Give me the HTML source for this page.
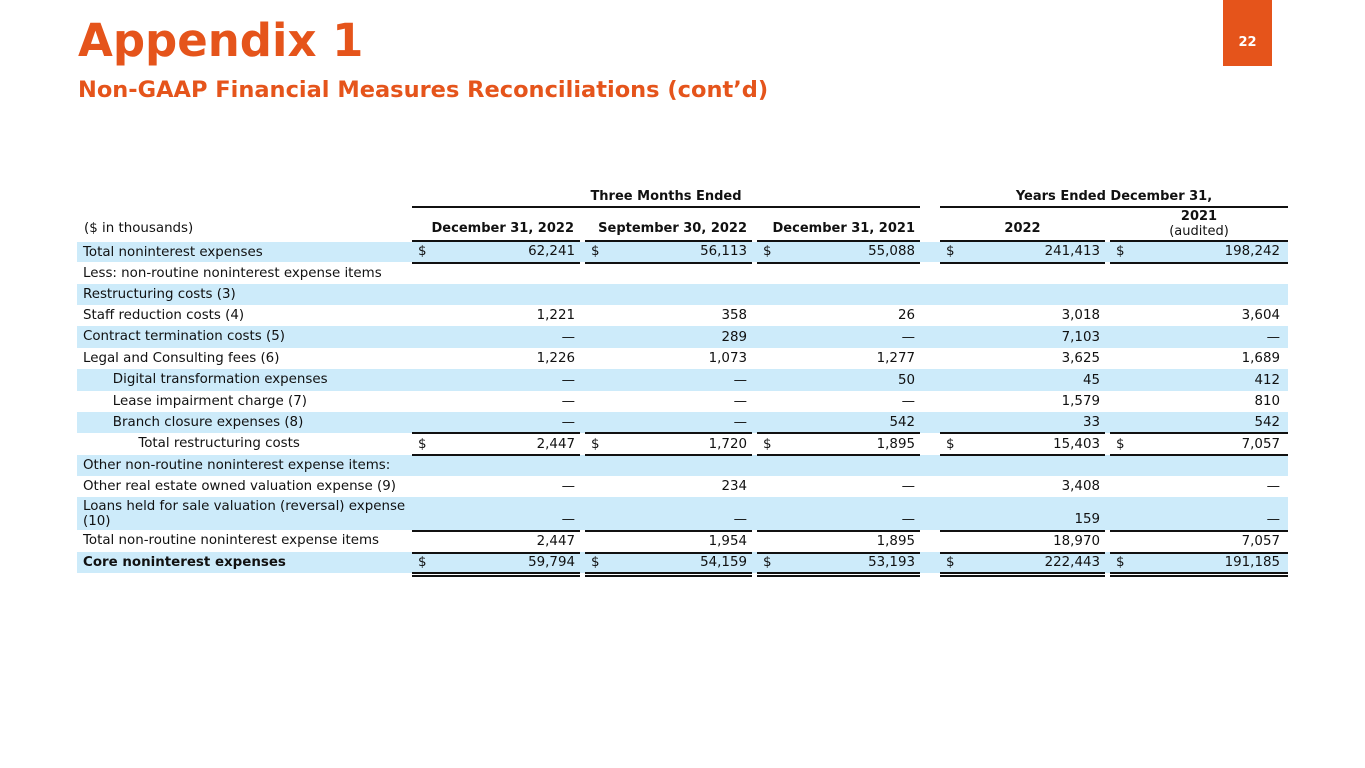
<!DOCTYPE html>
<html><head><meta charset="utf-8"><style>
body{margin:0;width:1365px;height:768px;background:#fff;position:relative;overflow:hidden;font-family:"DejaVu Sans","Liberation Sans",sans-serif;color:#111;}
.a{position:absolute;white-space:nowrap;}
.t{left:78px;top:14px;font-size:45px;font-weight:bold;color:#E5541B;font-family:"DejaVu Sans",sans-serif;letter-spacing:0px}
.s{left:78px;top:77px;font-size:22.5px;font-weight:bold;color:#E5541B}
.pg{left:1223px;top:0;width:49px;height:66px;background:#E5541B;color:#fff;font-weight:bold;font-size:13px;text-align:center;line-height:86px}
.r{position:absolute;left:77px;width:1211px;font-size:13.4px;}
.b{background:#CDEBFA}
.r span{position:absolute;top:0;}
.l{left:6px}
.h{position:absolute;height:2px;background:#111}
.hd{position:absolute;font-size:13px;font-weight:bold;text-align:center}
</style></head><body>
<div class="a t">Appendix 1</div>
<div class="a s">Non-GAAP Financial Measures Reconciliations (cont’d)</div>
<div class="a pg">22</div>

<div class="hd" style="left:412px;width:508px;top:189px">Three Months Ended</div>
<div class="hd" style="left:940px;width:348px;top:189px">Years Ended December 31,</div>
<div class="h" style="left:412px;width:508px;top:206px"></div>
<div class="h" style="left:940px;width:348px;top:206px"></div>
<div class="a" style="left:84px;top:221px;font-size:13.4px">($ in thousands)</div>
<div class="hd" style="left:412px;width:162px;top:221px;text-align:right">December 31, 2022</div>
<div class="hd" style="left:585px;width:162px;top:221px;text-align:right">September 30, 2022</div>
<div class="hd" style="left:757px;width:158px;top:221px;text-align:right">December 31, 2021</div>
<div class="hd" style="left:940px;width:165px;top:221px">2022</div>
<div class="hd" style="left:1110px;width:178px;top:209px;line-height:15px">2021<br><span style="font-weight:normal">(audited)</span></div>
<div class="h" style="left:412px;width:168px;top:240px"></div>
<div class="h" style="left:585px;width:167px;top:240px"></div>
<div class="h" style="left:757px;width:163px;top:240px"></div>
<div class="h" style="left:940px;width:165px;top:240px"></div>
<div class="h" style="left:1110px;width:178px;top:240px"></div>

<div id="rows"></div>
<script>
const rows=[
[242,20,1,"Total noninterest expenses",["62,241","56,113","55,088","241,413","198,242"],1,0],
[263,21,0,"Less: non-routine noninterest expense items",null,0,0],
[284,21,1,"Restructuring costs (3)",null,0,0],
[305,21,0,"Staff reduction costs (4)",["1,221","358","26","3,018","3,604"],0,0],
[326,22,1,"Contract termination costs (5)",["—","289","—","7,103","—"],0,0],
[348,21,0,"Legal and Consulting fees (6)",["1,226","1,073","1,277","3,625","1,689"],0,0],
[369,22,1,"&nbsp;&nbsp;&nbsp;&nbsp;&nbsp;&nbsp;&nbsp;Digital transformation expenses",["—","—","50","45","412"],0,0],
[391,21,0,"&nbsp;&nbsp;&nbsp;&nbsp;&nbsp;&nbsp;&nbsp;Lease impairment charge (7)",["—","—","—","1,579","810"],0,0],
[412,21,1,"&nbsp;&nbsp;&nbsp;&nbsp;&nbsp;&nbsp;&nbsp;Branch closure expenses (8)",["—","—","542","33","542"],0,0],
[433,22,0,"&nbsp;&nbsp;&nbsp;&nbsp;&nbsp;&nbsp;&nbsp;&nbsp;&nbsp;&nbsp;&nbsp;&nbsp;&nbsp;Total restructuring costs",["2,447","1,720","1,895","15,403","7,057"],1,0],
[455,21,1,"Other non-routine noninterest expense items:",null,0,0],
[476,21,0,"Other real estate owned valuation expense (9)",["—","234","—","3,408","—"],0,0],
[497,33,1,"Loans held for sale valuation (reversal) expense<br>(10)",["—","—","—","159","—"],0,0],
[530,22,0,"Total non-routine noninterest expense items",["2,447","1,954","1,895","18,970","7,057"],0,0],
[552,21,1,"<b>Core noninterest expenses</b>",["59,794","54,159","53,193","222,443","191,185"],1,0],
];
const cols=[[412,575],[585,747],[757,915],[940,1100],[1110,1280]];
const segs=[[412,168],[585,167],[757,163],[940,165],[1110,178]];
let h="";
for(const [top,ht,blue,lab,vals,dol] of rows){
 const two=lab.includes("<br>");
 h+=`<div class="r${blue?' b':''}" style="top:${top}px;height:${ht}px"><span class="l" style="top:${two?2:3}px;line-height:15px">${lab}</span></div>`;
 if(vals){vals.forEach((v,i)=>{const [l,r]=cols[i];const ty=top+ht-18;
  if(dol)h+=`<div class="a" style="left:${l+6}px;top:${ty}px;font-size:13.4px">$</div>`;
  h+=`<div class="a" style="left:${l}px;width:${r-l}px;text-align:right;top:${ty}px;font-size:13.4px">${v}</div>`;});}
}
const lines=[[262,2],[432,2],[454,1.5],[530,1.5],[552,1.5],[572,2],[575,2]];
for(const [y,t] of lines)for(const [l,w] of segs)h+=`<div class="h" style="left:${l}px;width:${w}px;top:${y}px;height:${t}px"></div>`;
document.getElementById("rows").innerHTML=h;
</script>
</body></html>
